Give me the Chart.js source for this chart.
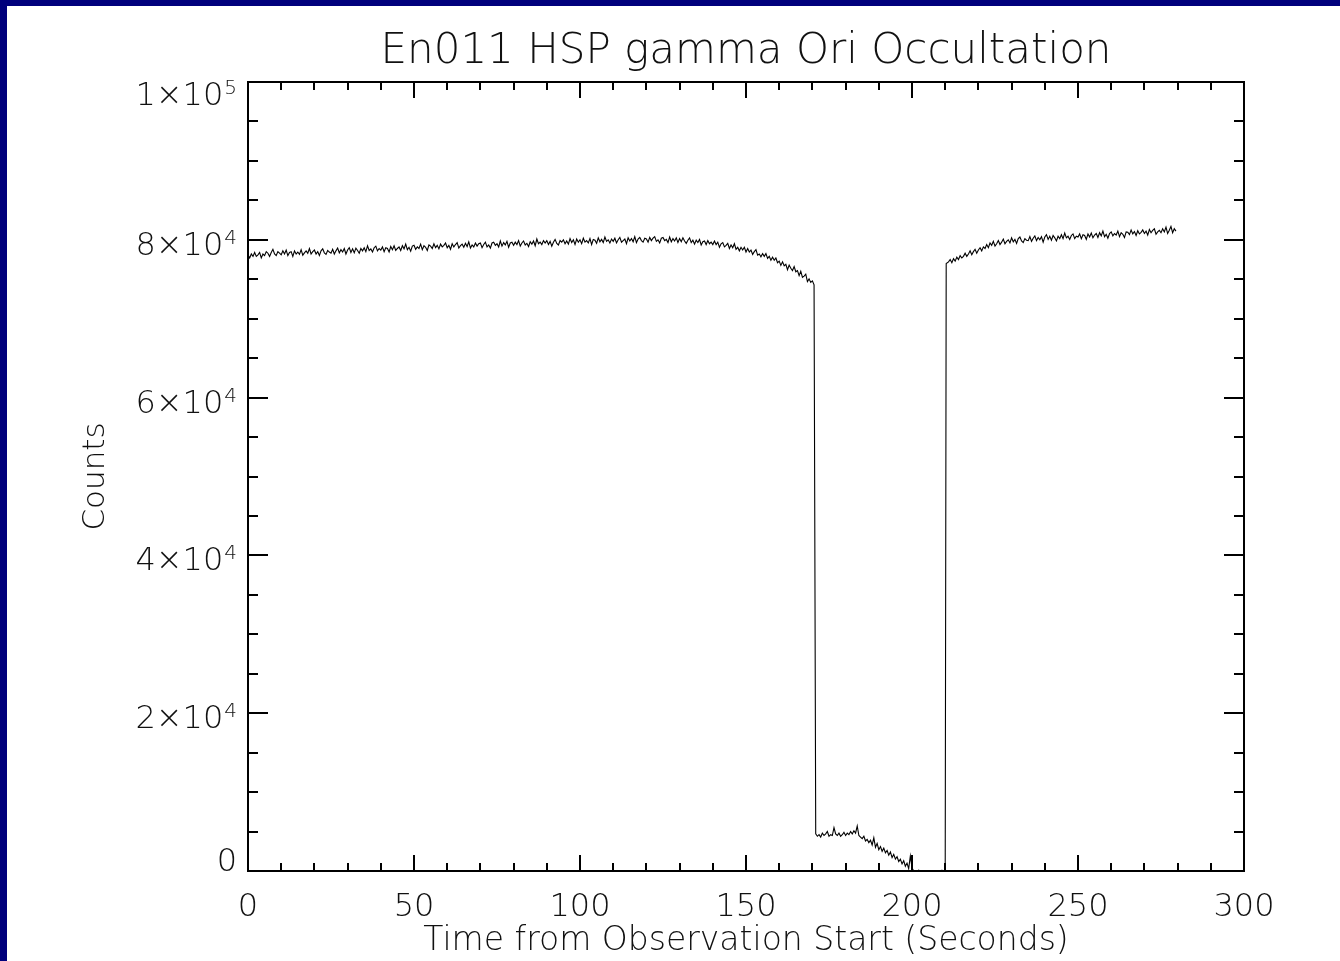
<!DOCTYPE html>
<html>
<head>
<meta charset="utf-8">
<title>En011 HSP gamma Ori Occultation</title>
<script src="https://cdn.jsdelivr.net/npm/chart.js@4.4.1/dist/chart.umd.min.js"></script>
<style>
  html, body { margin: 0; padding: 0; background: #00007c; overflow: hidden; }
  #frame { position: absolute; left: 7px; top: 6px; width: 1333px; height: 955px; background: #fff; }
</style>
</head>
<body>
<div id="frame"><canvas id="chart-occ"></canvas></div>
<script>
(function () {
  'use strict';

  // sample times (s)
  var times = [
    0, 0.5, 1, 1.5, 2, 2.5, 3, 3.5, 4, 4.5, 5, 5.5, 6, 6.5, 7, 7.5, 8, 8.5, 9, 9.5,
    10, 10.5, 11, 11.5, 12, 12.5, 13, 13.5, 14, 14.5, 15, 15.5, 16, 16.5, 17, 17.5, 18, 18.5, 19, 19.5,
    20, 20.5, 21, 21.5, 22, 22.5, 23, 23.5, 24, 24.5, 25, 25.5, 26, 26.5, 27, 27.5, 28, 28.5, 29, 29.5,
    30, 30.5, 31, 31.5, 32, 32.5, 33, 33.5, 34, 34.5, 35, 35.5, 36, 36.5, 37, 37.5, 38, 38.5, 39, 39.5,
    40, 40.5, 41, 41.5, 42, 42.5, 43, 43.5, 44, 44.5, 45, 45.5, 46, 46.5, 47, 47.5, 48, 48.5, 49, 49.5,
    50, 50.5, 51, 51.5, 52, 52.5, 53, 53.5, 54, 54.5, 55, 55.5, 56, 56.5, 57, 57.5, 58, 58.5, 59, 59.5,
    60, 60.5, 61, 61.5, 62, 62.5, 63, 63.5, 64, 64.5, 65, 65.5, 66, 66.5, 67, 67.5, 68, 68.5, 69, 69.5,
    70, 70.5, 71, 71.5, 72, 72.5, 73, 73.5, 74, 74.5, 75, 75.5, 76, 76.5, 77, 77.5, 78, 78.5, 79, 79.5,
    80, 80.5, 81, 81.5, 82, 82.5, 83, 83.5, 84, 84.5, 85, 85.5, 86, 86.5, 87, 87.5, 88, 88.5, 89, 89.5,
    90, 90.5, 91, 91.5, 92, 92.5, 93, 93.5, 94, 94.5, 95, 95.5, 96, 96.5, 97, 97.5, 98, 98.5, 99, 99.5,
    100, 100.5, 101, 101.5, 102, 102.5, 103, 103.5, 104, 104.5, 105, 105.5, 106, 106.5, 107, 107.5, 108, 108.5, 109, 109.5,
    110, 110.5, 111, 111.5, 112, 112.5, 113, 113.5, 114, 114.5, 115, 115.5, 116, 116.5, 117, 117.5, 118, 118.5, 119, 119.5,
    120, 120.5, 121, 121.5, 122, 122.5, 123, 123.5, 124, 124.5, 125, 125.5, 126, 126.5, 127, 127.5, 128, 128.5, 129, 129.5,
    130, 130.5, 131, 131.5, 132, 132.5, 133, 133.5, 134, 134.5, 135, 135.5, 136, 136.5, 137, 137.5, 138, 138.5, 139, 139.5,
    140, 140.5, 141, 141.5, 142, 142.5, 143, 143.5, 144, 144.5, 145, 145.5, 146, 146.5, 147, 147.5, 148, 148.5, 149, 149.5,
    150, 150.5, 151, 151.5, 152, 152.5, 153, 153.5, 154, 154.5, 155, 155.5, 156, 156.5, 157, 157.5, 158, 158.5, 159, 159.5,
    160, 160.5, 161, 161.5, 162, 162.5, 163, 163.5, 164, 164.5, 165, 165.5, 166, 166.5, 167, 167.5, 168, 168.5, 169, 169.5,
    170, 170.5,
    171, 171.5, 172, 172.5, 173, 173.5, 174, 174.5, 175, 175.5, 176, 176.5, 177, 177.5, 178, 178.5, 179, 179.5, 180, 180.5,
    181, 181.5, 182, 182.5, 183, 183.5, 184, 184.5, 185, 185.5, 186, 186.5, 187, 187.5, 188, 188.5, 189, 189.5, 190, 190.5,
    191, 191.5, 192, 192.5, 193, 193.5, 194, 194.5, 195, 195.5, 196, 196.5, 197, 197.5, 198, 198.5, 199, 199.5, 200, 200.5,
    201, 202, 203, 204, 205, 206, 207, 208, 209, 210,
    210.3,
    211, 211.5, 212, 212.5, 213, 213.5, 214, 214.5, 215, 215.5, 216, 216.5, 217, 217.5, 218, 218.5, 219, 219.5, 220, 220.5,
    221, 221.5, 222, 222.5, 223, 223.5, 224, 224.5, 225, 225.5, 226, 226.5, 227, 227.5, 228, 228.5, 229, 229.5,
    230, 230.5, 231, 231.5, 232, 232.5, 233, 233.5, 234, 234.5, 235, 235.5, 236, 236.5, 237, 237.5, 238, 238.5, 239, 239.5,
    240, 240.5, 241, 241.5, 242, 242.5, 243, 243.5, 244, 244.5, 245, 245.5, 246, 246.5, 247, 247.5, 248, 248.5, 249, 249.5,
    250, 250.5, 251, 251.5, 252, 252.5, 253, 253.5, 254, 254.5, 255, 255.5, 256, 256.5, 257, 257.5, 258, 258.5, 259, 259.5,
    260, 260.5, 261, 261.5, 262, 262.5, 263, 263.5, 264, 264.5, 265, 265.5, 266, 266.5, 267, 267.5, 268, 268.5, 269, 269.5,
    270, 270.5, 271, 271.5, 272, 272.5, 273, 273.5, 274, 274.5, 275, 275.5, 276, 276.5, 277, 277.5, 278, 278.5, 279, 279.5
  ];

  // HSP counts at those times
  var counts = [
    78100, 77700, 78200, 77900, 78400, 77900, 78100, 78400, 77700, 78200, 78000, 78500, 78300, 77900, 78400, 78800, 78200, 78000, 78500, 78300,
    78100, 78600, 78200, 78700, 78000, 78400, 78500, 77900, 78600, 78200, 78450, 78150, 78750, 78050, 78350, 78600, 78300, 78900, 78200, 78500,
    78700, 78200, 78500, 78000, 78600, 78850, 78350, 78150, 78650, 78450, 78300, 78800, 78200, 78600, 78950, 78350, 78750, 78450, 78900, 78200,
    78700, 79000, 78400, 78850, 78350, 78950, 78650, 78300, 78900, 78600, 79000, 78500, 79250, 78650, 78850, 78450, 79000, 79200, 78600, 78900,
    78700, 79100, 78500, 79000, 78900, 78450, 79150, 78750, 79250, 78650, 78900, 79100, 78650, 79250, 78850, 79450, 78750, 79050, 78550, 79200,
    79300, 78800, 79100, 78900, 79450, 78750, 79250, 79050, 78650, 79350, 79200, 78900, 79500, 79000, 79300, 78850, 79450, 79100, 79300, 79600,
    79000, 79300, 78800, 79500, 79100, 79400, 79650, 78950, 79250, 79450, 79050, 79550, 79150, 79750, 78950, 79350, 79100, 79600, 79200, 79500,
    79600, 79000, 79400, 79700, 79100, 79350, 78950, 79600, 79700, 79300, 79500, 79100, 79850, 79200, 79650, 79350, 79800, 79050, 79600, 79700,
    79300, 79700, 79400, 79900, 79200, 79600, 79850, 79350, 79550, 79150, 79750, 79450, 79850, 79250, 80100, 79500, 79700, 79400, 79900, 79600,
    79900, 79400, 79800, 79200, 79700, 80050, 79550, 79350, 79900, 79700, 80000, 79500, 79850, 79450, 80150, 79650, 80000, 79400, 80100, 79700,
    80000, 79500, 80200, 79700, 79900, 79600, 80150, 79400, 80050, 79950, 79550, 80250, 79750, 80050, 79650, 80350, 79800, 80000, 79600, 80100,
    79800, 80200, 79600, 80000, 80300, 79700, 79900, 80100, 79500, 80250, 79850, 80150, 79750, 80400, 79650, 80100, 80300, 79900, 79700, 80200,
    80100, 79700, 80300, 79900, 80200, 80400, 79800, 80000, 79600, 80200, 80300, 79900, 80050, 79650, 80350, 79750, 80150, 79850, 80250, 79650,
    80150, 79750, 80250, 79850, 79550, 79950, 80250, 79650, 79950, 79450, 79950, 79650, 80050, 79350, 79750, 79850, 79400, 79900, 79500, 79700,
    79400, 79850, 79400, 79700, 79050, 79500, 79650, 79100, 79300, 79550, 78900, 79350, 79000, 79500, 78800, 79050, 78600, 79050, 78700, 79050,
    78450, 78900, 78450, 78700, 78150, 78500, 78750, 78050, 78200, 77850, 78250, 77900, 78250, 77650, 77900, 77400, 77800, 77400, 77700, 77100,
    77300, 76750, 77200, 76700, 76900, 76200, 76800, 76400, 76100, 76600, 75950, 76100, 75450, 76000, 75250, 75400, 75650, 74700, 75050, 74600,
    74800, 74300,
    4700, 4400, 4600, 4300, 4800, 4500, 4700, 5000, 4400, 4600, 4500, 5500, 4700, 4500, 4800, 4400, 4600, 4900, 4500, 4800,
    4600, 5000, 4700, 5100, 4800, 5700, 4500, 4300, 4100, 4400, 3800, 4000, 3600, 3900, 3300, 4200, 3000, 3500, 2700, 3100,
    2500, 2900, 2300, 2600, 2000, 2400, 1700, 2100, 1500, 1800, 1200, 1500, 900, 1300, 600, 1000, 300, 1900, 400, 0,
    -200, 100, -100, 0, -150, 50, -100, 0, 100, 0,
    77000,
    77200, 77500, 77100, 77600, 77300, 77800, 77500, 78000, 77700, 77900, 78300, 77900, 78200, 78600, 78100, 78500, 78800, 78300, 78700, 79000,
    78600, 79100, 78900, 79400, 79000, 79600, 79300, 79800, 79200, 79500, 79900, 79400, 79700, 80100, 79500, 79800, 80000, 79600,
    80250, 79750, 80050, 79550, 80150, 80350, 79850, 79650, 80150, 79950, 79900, 80400, 79800, 80200, 80500, 79900, 80300, 80000, 80400, 79700,
    80350, 80650, 80050, 80450, 79950, 80550, 80250, 79850, 80450, 80150, 80650, 80150, 80850, 80250, 80450, 80050, 80550, 80750, 80150, 80450,
    80350, 80750, 80150, 80650, 80550, 80050, 80750, 80350, 80850, 80250, 80600, 80800, 80300, 80900, 80500, 81100, 80400, 80700, 80200, 80800,
    81000, 80500, 80800, 80600, 81100, 80400, 80900, 80700, 80300, 81000, 80950, 80650, 81250, 80750, 81050, 80550, 81150, 80750, 80950, 81250,
    80800, 81100, 80600, 81300, 80900, 81200, 81400, 80700, 81000, 81200, 80900, 81400, 81000, 81600, 80800, 81200, 81700, 80900, 81400, 81100
  ];

  var xTicks = [0, 50, 100, 150, 200, 250, 300];
  var yTicks = [0, 20000, 40000, 60000, 80000, 100000];
  var yTickText = ['0', '2×10', '4×10', '6×10', '8×10', '1×10'];
  var yTickExp = ['', '4', '4', '4', '4', '5'];
  var xMinorStep = 10;
  var yMinorStep = 5000;

  var FONT = "'DejaVu Sans', sans-serif";
  var INK = '#111';

  // IDL-style boxed axes: inward ticks on all four sides, y labels with exponents
  var idlAxes = {
    id: 'idlAxes',
    afterDraw: function (chart) {
      var ctx = chart.ctx;
      var a = chart.chartArea;
      var sx = chart.scales.x;
      var sy = chart.scales.y;
      var v, px, py, len, i;

      ctx.save();
      ctx.strokeStyle = '#000';
      ctx.lineWidth = 2;
      ctx.strokeRect(a.left, a.top, a.right - a.left, a.bottom - a.top);

      ctx.beginPath();
      for (v = sx.min; v <= sx.max; v += xMinorStep) {
        px = Math.round(sx.getPixelForValue(v));
        len = v % 50 === 0 ? 16 : 8;
        ctx.moveTo(px, a.bottom); ctx.lineTo(px, a.bottom - len);
        ctx.moveTo(px, a.top); ctx.lineTo(px, a.top + len);
      }
      for (v = sy.min; v <= sy.max; v += yMinorStep) {
        py = Math.round(sy.getPixelForValue(v));
        len = v % 20000 === 0 ? 20 : 10;
        ctx.moveTo(a.left, py); ctx.lineTo(a.left + len, py);
        ctx.moveTo(a.right, py); ctx.lineTo(a.right - len, py);
      }
      ctx.stroke();

      ctx.fillStyle = INK;
      ctx.textBaseline = 'alphabetic';
      ctx.textAlign = 'right';
      var right = a.left - 11;
      for (i = 0; i < yTicks.length; i++) {
        py = sy.getPixelForValue(yTicks[i]);
        var drop = i === 0 ? 0 : (i === yTicks.length - 1 ? 23 : 15);
        var base = py + drop;
        var expW = 0;
        if (yTickExp[i]) {
          ctx.font = '200 20px ' + FONT;
          ctx.fillText(yTickExp[i], right, base - 11);
          expW = ctx.measureText(yTickExp[i]).width + 1;
        }
        ctx.font = '200 32px ' + FONT;
        ctx.fillText(yTickText[i], right - expW, base);
      }
      ctx.restore();
    }
  };

  var ctx = document.getElementById('chart-occ');
  new Chart(ctx, {
    type: 'line',
    data: {
      datasets: [{
        data: times.map(function (t, i) { return { x: t, y: counts[i] }; }),
        borderColor: '#000',
        borderWidth: 1.1,
        pointRadius: 0,
        tension: 0,
        fill: false
      }]
    },
    options: {
      responsive: true,
      maintainAspectRatio: false,
      animation: false,
      layout: { padding: { left: 0, right: 96, top: 0, bottom: 0 } },
      plugins: {
        legend: { display: false },
        tooltip: { enabled: false },
        title: {
          display: true,
          fullSize: false,
          text: 'En011 HSP gamma Ori Occultation',
          color: INK,
          font: { family: FONT, size: 42, weight: '200' },
          padding: { top: 21, bottom: 4.6 }
        }
      },
      scales: {
        x: {
          type: 'linear',
          min: 0,
          max: 300,
          grid: { display: false, drawTicks: false },
          border: { display: false },
          afterBuildTicks: function (s) {
            s.ticks = xTicks.map(function (v) { return { value: v }; });
          },
          ticks: {
            autoSkip: false,
            maxRotation: 0,
            padding: 17,
            color: INK,
            font: { family: FONT, size: 32, weight: '200' }
          },
          title: {
            display: true,
            text: 'Time from Observation Start (Seconds)',
            color: INK,
            font: { family: FONT, size: 33, weight: '200' },
            padding: { top: 0, bottom: 0 }
          },
          afterFit: function (s) { s.height = 90; }
        },
        y: {
          type: 'linear',
          min: 0,
          max: 100000,
          grid: { display: false, drawTicks: false },
          border: { display: false },
          ticks: { display: false },
          title: {
            display: true,
            text: 'Counts',
            color: INK,
            font: { family: FONT, size: 31, weight: '200' },
            padding: { top: 70, bottom: 0 }
          },
          afterFit: function (s) { s.width = 241; }
        }
      }
    },
    plugins: [idlAxes]
  });
})();
</script>
</body>
</html>
